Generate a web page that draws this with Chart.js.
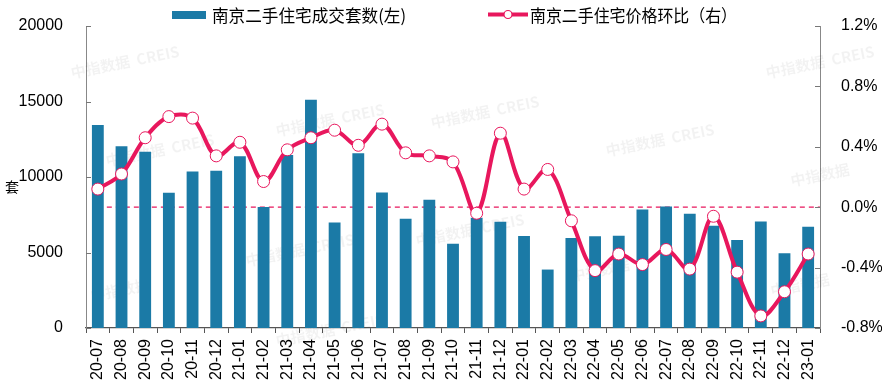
<!DOCTYPE html>
<html>
<head>
<meta charset="utf-8">
<script src="https://cdn.jsdelivr.net/npm/chart.js@4.4.1/dist/chart.umd.min.js"></script>
<style>
  html, body { margin: 0; padding: 0; background: #fff; }
  #wrap { width: 882px; height: 392px; position: relative; }
</style>
</head>
<body>
<div id="wrap"><canvas id="grafico"></canvas></div>
<script>
var labels = ['20-07','20-08','20-09','20-10','20-11','20-12',
    '21-01','21-02','21-03','21-04','21-05','21-06','21-07','21-08','21-09','21-10','21-11','21-12',
    '22-01','22-02','22-03','22-04','22-05','22-06','22-07','22-08','22-09','22-10','22-11','22-12',
    '23-01'];
// 成交套数 (左轴, 套)
var volume = [13440, 12040, 11680, 8960, 10370, 10410,
    11380, 8020, 11450, 15110, 6980, 11570, 8980, 7230, 8500, 5580, 7300, 7030,
    6090, 3870, 5960, 6070, 6110, 7850, 8040, 7560, 6770, 5820, 7050, 4950,
    6700];
// 价格环比 (右轴, %)
var priceMoM = [0.12, 0.22, 0.46, 0.60, 0.59, 0.34,
    0.43, 0.17, 0.38, 0.46, 0.51, 0.41, 0.55, 0.36, 0.34, 0.30, -0.04, 0.49,
    0.12, 0.25, -0.09, -0.42, -0.31, -0.38, -0.28, -0.41, -0.06, -0.43, -0.72, -0.56,
    -0.31];
var leftTicks = [0, 5000, 10000, 15000, 20000];
var rightTicks = [-0.8, -0.4, 0.0, 0.4, 0.8, 1.2];

var barColor = '#1b7aa6';
var lineColor = '#e8175d';
var font = '"Liberation Sans", Arial, sans-serif';
var cjk = '"Noto Sans CJK SC", sans-serif';

var watermarks = [
    [125, 62, '中指数据  CREIS'], [485, 112, '中指数据  CREIS'], [660, 140, '中指数据  CREIS'],
    [820, 62, '中指数据  CREIS'], [160, 150, '中指数据  CREIS'], [330, 120, '中指数据  CREIS'],
    [120, 290, '中指数据'], [300, 250, '中指数据  CREIS'], [470, 230, '中指数据  CREIS'],
    [820, 175, '中指数据'], [800, 285, '中指数据'], [600, 270, '中指数据'], [330, 330, '中指数据  CREIS']
];

var extras = {
    id: 'extras',
    beforeDatasetsDraw: function(chart) {
        var ctx = chart.ctx;
        ctx.save();
        ctx.font = 'bold 15px ' + cjk;
        ctx.fillStyle = 'rgba(0,0,0,0.05)';
        ctx.textAlign = 'center';
        ctx.textBaseline = 'middle';
        watermarks.forEach(function(w) {
            ctx.save();
            ctx.translate(w[0], w[1]);
            ctx.rotate(-0.2);
            ctx.fillText(w[2], 0, 0);
            ctx.restore();
        });
        // 0% dashed line
        var x = chart.scales.x, yR = chart.scales.yR;
        var y0 = yR.getPixelForValue(0);
        ctx.strokeStyle = lineColor;
        ctx.lineWidth = 1.2;
        ctx.setLineDash([5, 4]);
        ctx.beginPath();
        ctx.moveTo(x.getPixelForValue(0), y0);
        ctx.lineTo(chart.chartArea.right, y0);
        ctx.stroke();
        ctx.restore();
    },
    afterDraw: function(chart) {
        var ctx = chart.ctx;
        var area = chart.chartArea;
        var yL = chart.scales.y, yR = chart.scales.yR;
        ctx.save();
        // inward ticks
        ctx.strokeStyle = '#777';
        ctx.lineWidth = 1;
        leftTicks.forEach(function(v) {
            var p = Math.round(yL.getPixelForValue(v)) + 0.5;
            ctx.beginPath(); ctx.moveTo(area.left, p); ctx.lineTo(area.left + 5, p); ctx.stroke();
        });
        rightTicks.forEach(function(v) {
            var p = Math.round(yR.getPixelForValue(v)) + 0.5;
            ctx.beginPath(); ctx.moveTo(area.right, p); ctx.lineTo(area.right - 5, p); ctx.stroke();
        });
        // axis unit
        ctx.fillStyle = '#000';
        ctx.font = '14px ' + cjk;
        ctx.textAlign = 'center';
        ctx.textBaseline = 'middle';
        ctx.fillText('套', 12, 187);
        // legend
        ctx.font = '17px ' + cjk;
        ctx.textAlign = 'left';
        ctx.fillStyle = barColor;
        ctx.fillRect(172, 11, 34, 8);
        ctx.fillStyle = '#000';
        ctx.fillText('南京二手住宅成交套数(左)', 212, 15.5, 194);
        ctx.strokeStyle = lineColor;
        ctx.lineWidth = 4;
        ctx.setLineDash([]);
        ctx.beginPath(); ctx.moveTo(488, 14.5); ctx.lineTo(528, 14.5); ctx.stroke();
        ctx.beginPath(); ctx.arc(508, 14.5, 4, 0, Math.PI * 2);
        ctx.fillStyle = '#fff'; ctx.fill();
        ctx.lineWidth = 1.2; ctx.stroke();
        ctx.fillStyle = '#000';
        ctx.fillText('南京二手住宅价格环比（右）', 530, 15.5, 207);
        ctx.restore();
    }
};

var canvas = document.getElementById('grafico');
var chart = new Chart(canvas, {
    type: 'bar',
    data: {
        labels: labels,
        datasets: [
            {
                type: 'line',
                label: '南京二手住宅价格环比（右）',
                data: priceMoM,
                yAxisID: 'yR',
                borderColor: lineColor,
                borderWidth: 4,
                tension: 0.35,
                pointRadius: 6,
                pointBackgroundColor: '#fff',
                pointBorderColor: lineColor,
                pointBorderWidth: 1,
                order: 0
            },
            {
                label: '南京二手住宅成交套数(左)',
                data: volume,
                yAxisID: 'y',
                backgroundColor: barColor,
                categoryPercentage: 1,
                barPercentage: 0.5,
                order: 1
            }
        ]
    },
    options: {
        responsive: true,
        maintainAspectRatio: false,
        animation: false,
        layout: { padding: { top: 26, left: 0, right: 0, bottom: 0 } },
        plugins: {
            legend: { display: false },
            tooltip: { enabled: false }
        },
        scales: {
            x: {
                grid: { display: true, drawOnChartArea: false, tickLength: 5, color: '#555' },
                border: { color: '#555', width: 1.2 },
                ticks: {
                    color: '#000', font: { family: font, size: 16 },
                    minRotation: 90, maxRotation: 90, autoSkip: false, padding: 6
                },
                afterFit: function(s) { s.height = 64; }
            },
            y: {
                position: 'left',
                min: 0, max: 20000,
                afterBuildTicks: function(s) { s.ticks = leftTicks.map(function(v) { return { value: v }; }); },
                grid: { display: false },
                border: { color: '#888', width: 1 },
                ticks: {
                    color: '#000', font: { family: font, size: 16 }, padding: 15,
                    callback: function(v) { return String(v); }
                },
                afterFit: function(s) { s.width = 86; }
            },
            yR: {
                position: 'right',
                min: -0.8, max: 1.2,
                afterBuildTicks: function(s) { s.ticks = rightTicks.map(function(v) { return { value: v }; }); },
                grid: { display: false },
                border: { color: '#888', width: 1 },
                ticks: {
                    color: '#000', font: { family: font, size: 16 }, padding: 13,
                    callback: function(v) { return Number(v).toFixed(1) + '%'; }
                },
                afterFit: function(s) { s.width = 62; }
            }
        }
    },
    plugins: [extras]
});
</script>
</body>
</html>
